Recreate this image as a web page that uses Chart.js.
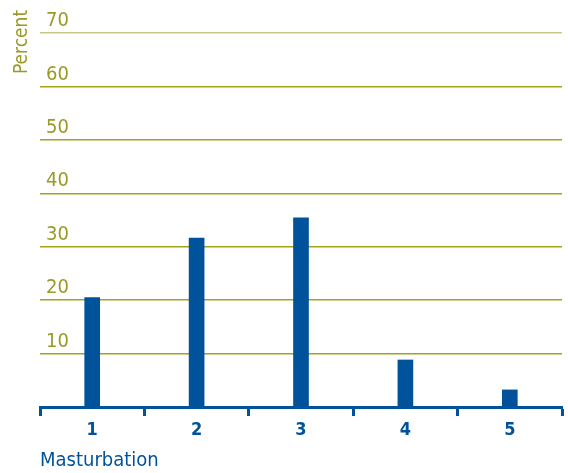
<!DOCTYPE html>
<html>
<head>
<meta charset="utf-8">
<script src="https://cdn.jsdelivr.net/npm/chart.js@4/dist/chart.umd.min.js"></script>
<style>
  html, body { margin: 0; padding: 0; background: #fff; }
  #wrap { width: 568px; height: 473px; }
</style>
</head>
<body>
<div id="wrap"><canvas id="barChart" width="568" height="473"></canvas></div>
<script>
const categories = ['1', '2', '3', '4', '5'];
const percentValues = [20.5, 31.6, 35.4, 8.8, 3.2];
const yTicks = [0, 10, 20, 30, 40, 50, 60, 70];

const olive = '#9b9a27';
const blue = '#00529b';
const fontFamily = "'Liberation Sans Narrow', 'DejaVu Sans Condensed', Roboto, sans-serif";

// y-axis title sits above the chart area, next to the top tick label
const percentTitle = {
    id: 'percentTitle',
    afterDraw(chart) {
        const c = chart.ctx;
        c.save();
        c.translate(22, 42);
        c.rotate(-Math.PI / 2);
        c.fillStyle = olive;
        c.font = `19px ${fontFamily}`;
        c.textAlign = 'center';
        c.textBaseline = 'middle';
        c.fillText('Percent', 0, 0);
        c.restore();
    }
};

const ctx = document.getElementById('barChart').getContext('2d');

new Chart(ctx, {
    type: 'bar',
    data: {
        labels: categories,
        datasets: [{
            label: 'Percent',
            data: percentValues,
            backgroundColor: blue,
            barThickness: 15
        }]
    },
    options: {
        responsive: false,
        animation: false,
        layout: { padding: { top: 33, right: 6, left: 0, bottom: 0 } },
        plugins: {
            legend: { display: false },
            tooltip: { enabled: false }
        },
        scales: {
            x: {
                grid: {
                    offset: true,
                    drawOnChartArea: false,
                    drawTicks: true,
                    tickLength: 9,
                    tickWidth: 3,
                    color: blue
                },
                border: { color: blue, width: 3 },
                ticks: {
                    color: blue,
                    padding: 4,
                    font: { family: fontFamily, size: 18, weight: 'bold' }
                },
                title: {
                    display: true,
                    text: 'Masturbation',
                    align: 'start',
                    color: blue,
                    padding: { top: -4, bottom: 0 },
                    font: { family: fontFamily, size: 20 }
                },
                afterFit: (scale) => { scale.height = 66; }
            },
            y: {
                min: 0,
                max: 70,
                afterBuildTicks: (scale) => {
                    scale.ticks = yTicks.map(v => ({ value: v }));
                },
                grid: {
                    drawTicks: false,
                    lineWidth: 1.5,
                    color: (c) => {
                        if (c.tick.value === 0) return 'rgba(0,0,0,0)';
                        if (c.tick.value === 70) return '#c9c68a';
                        return '#a5a21c';
                    }
                },
                border: { display: false },
                ticks: {
                    mirror: true,
                    padding: 6,
                    labelOffset: -12,
                    color: olive,
                    font: { family: fontFamily, size: 20 },
                    callback: (v) => (v === 0 ? '' : v)
                },
                afterFit: (scale) => { scale.width = 40; }
            }
        }
    },
    plugins: [percentTitle]
});
</script>
</body>
</html>
